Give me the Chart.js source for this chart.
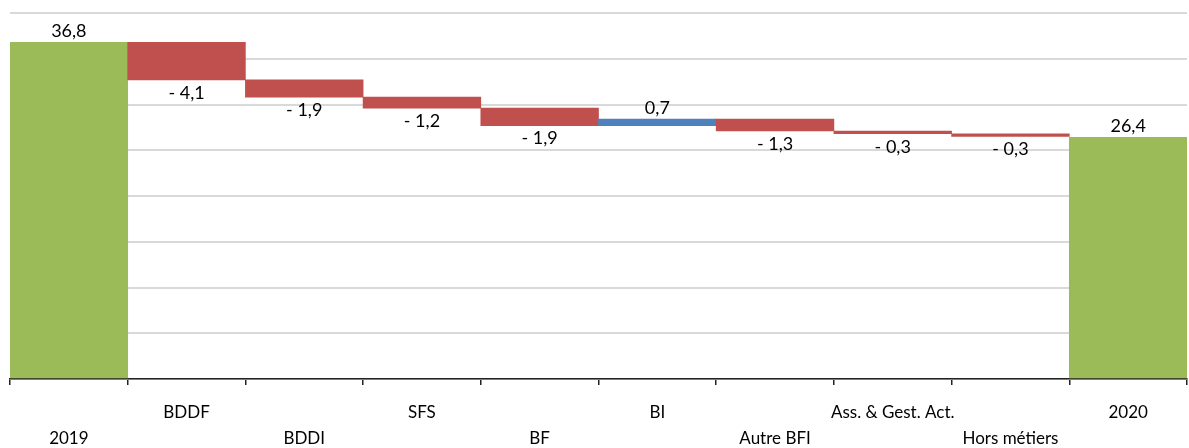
<!DOCTYPE html>
<html>
<head>
<meta charset="utf-8">
<script src="https://cdn.jsdelivr.net/npm/chart.js@4/dist/chart.umd.min.js"></script>
<style>
  html, body { margin: 0; padding: 0; background: #fff; }
  #wrap { width: 1189px; height: 448px; }
</style>
</head>
<body>
<div id="wrap"><canvas id="c"></canvas></div>
<script>
// Waterfall: 2019 total, contributions per business line, 2020 total
const categories = ['2019', 'BDDF', 'BDDI', 'SFS', 'BF', 'BI', 'Autre BFI', 'Ass. & Gest. Act.', 'Hors métiers', '2020'];
const values = [36.8, -4.1, -1.9, -1.2, -1.9, 0.7, -1.3, -0.3, -0.3, 26.4];
const isTotal = [true, false, false, false, false, false, false, false, false, true];
const yTicks = [0, 5, 10, 15, 20, 25, 30, 35, 40];

const GREEN = '#9BBB59', RED = '#C0504D', BLUE = '#4F81BD';

// floating bar ranges built from the running sum
const ranges = [];
const colors = [];
let running = 0;
values.forEach((v, i) => {
  if (isTotal[i]) {
    ranges.push([0, v]);
    running = v;
    colors.push(GREEN);
  } else {
    const start = running;
    running = +(running + v).toFixed(2);
    ranges.push([start, running]);
    colors.push(v < 0 ? RED : BLUE);
  }
});

// alternate labels on two rows
const xLabels = categories.map((c, i) => i % 2 === 0 ? ['', c] : [c, '']);

function fmt(v, total) {
  const s = Math.abs(v).toFixed(1).replace('.', ',');
  if (total) return s;
  return v < 0 ? '- ' + s : s;
}

const FONT = 'Lato, "Open Sans", sans-serif';

const valueLabels = {
  id: 'valueLabels',
  afterDatasetsDraw(chart) {
    const ctx = chart.ctx;
    const meta = chart.getDatasetMeta(0);
    ctx.save();
    ctx.font = '18px ' + FONT;
    ctx.fillStyle = '#000';
    ctx.textAlign = 'center';
    ctx.textBaseline = 'middle';
    meta.data.forEach((bar, i) => {
      const v = values[i];
      const top = Math.min(bar.y, bar.base);
      const bottom = Math.max(bar.y, bar.base);
      const txt = fmt(v, isTotal[i]);
      if (isTotal[i] || v >= 0) {
        ctx.fillText(txt, bar.x, top - 11);
      } else {
        ctx.fillText(txt, bar.x, bottom + 13);
      }
    });
    ctx.restore();
  }
};

new Chart(document.getElementById('c'), {
  type: 'bar',
  data: {
    labels: xLabels,
    datasets: [{
      data: ranges,
      backgroundColor: colors,
      borderWidth: 0,
      barPercentage: 1,
      categoryPercentage: 1
    }]
  },
  options: {
    responsive: true,
    maintainAspectRatio: false,
    animation: false,
    layout: { padding: { left: 10, right: 2, top: 13, bottom: 0 } },
    plugins: { legend: { display: false }, tooltip: { enabled: false } },
    scales: {
      x: {
        afterFit(axis) { axis.height = 69; },
        grid: { drawOnChartArea: false, drawTicks: true, tickLength: 6, color: '#222', lineWidth: 1.5, offset: true },
        border: { display: true, color: '#222', width: 1.5 },
        ticks: {
          maxRotation: 0, autoSkip: false, padding: 15, color: '#000',
          font: { family: FONT, size: 17, lineHeight: '26px' }
        }
      },
      y: {
        min: 0, max: 40,
        afterBuildTicks(axis) { axis.ticks = yTicks.map(v => ({ value: v })); },
        grid: { color: '#D9D9D9', lineWidth: 2, drawTicks: false },
        border: { display: false },
        ticks: { display: false }
      }
    }
  },
  plugins: [valueLabels]
});
</script>
</body>
</html>
